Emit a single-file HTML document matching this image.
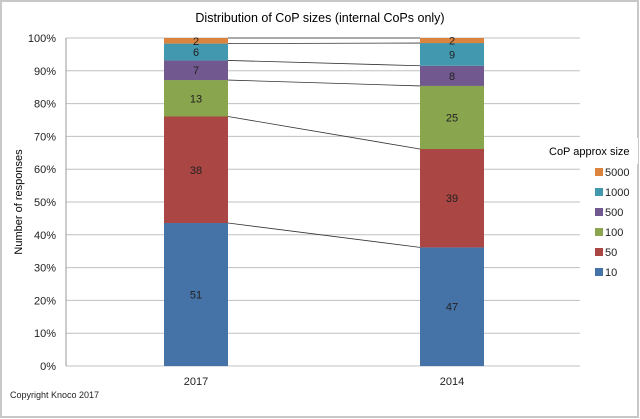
<!DOCTYPE html>
<html><head><meta charset="utf-8"><style>
body{margin:0;background:#fff}
svg{display:block;font-family:"Liberation Sans",sans-serif}
</style></head><body>
<svg id="c" width="640" height="419"></svg>
<script>
const categories=["2017","2014"];
const seriesNames=["10","50","100","500","1000","5000"];
const colors=["#4572A7","#AA4643","#89A54E","#71588F","#4198AF","#DB843D"];
const v10=[51,47];
const v50=[38,39];
const v100=[13,25];
const v500=[7,8];
const v1000=[6,9];
const v5000=[2,2];
const yTicks=["0%","10%","20%","30%","40%","50%","60%","70%","80%","90%","100%"];
const series=[v10,v50,v100,v500,v1000,v5000];
const NS="http://www.w3.org/2000/svg";
const svg=document.getElementById('c');
function mk(t,a,p){const e=document.createElementNS(NS,t);for(const k in a)e.setAttribute(k,a[k]);(p||svg).appendChild(e);return e;}
const x0=66,x1=580,y0=366,y1=38;
const y=p=>y0-(y0-y1)*p;
const barX=[164,420],bw=64;
mk('rect',{x:1,y:1,width:637,height:416,fill:'#fff',stroke:'#c8c8c8','stroke-width':2});
let t=mk('text',{x:320,y:22,'text-anchor':'middle','font-size':12.5,fill:'#000'});t.textContent="Distribution of CoP sizes (internal CoPs only)";

yTicks.forEach((lab,i)=>{const yy=y(i/10);
 const g=mk('line',{x1:x0,x2:x1,y1:yy,y2:yy,stroke:'#c0c0c0','stroke-width':1});
 
 const tx=mk('text',{x:56,y:yy+4,'text-anchor':'end','font-size':11,fill:'#222'});tx.textContent=lab;
 
});
mk('line',{x1:x0,x2:x0,y1:y1,y2:y0,stroke:'#999'});
t=mk('text',{x:0,y:0,transform:'translate(22,202) rotate(-90)','text-anchor':'middle','font-size':11,fill:'#000'});t.textContent="Number of responses";

const totals=categories.map((_,c)=>series.reduce((s,a)=>s+a[c],0));
const cum=categories.map(()=>[0]);
series.forEach((arr,s)=>categories.forEach((_,c)=>cum[c].push(cum[c][s]+arr[c]/totals[c])));
series.forEach((arr,s)=>{categories.forEach((cat,c)=>{
 const ya=y(cum[c][s]),yb=y(cum[c][s+1]);
 const r=mk('rect',{x:barX[c],y:yb,width:bw,height:ya-yb,fill:colors[s]});
 
 const l=mk('text',{x:barX[c]+bw/2,y:(ya+yb)/2+4,'text-anchor':'middle','font-size':11,fill:'#222'});l.textContent=arr[c];
 
});
 const sl=mk('line',{x1:barX[0]+bw,x2:barX[1],y1:y(cum[0][s+1]),y2:y(cum[1][s+1]),stroke:'#333','stroke-width':0.8});
 
});
categories.forEach((cat,c)=>{const tx=mk('text',{x:barX[c]+bw/2,y:385,'text-anchor':'middle','font-size':11,fill:'#222'});tx.textContent=cat;
 });
mk('rect',{x:542,y:138,width:96,height:26,fill:'#fff'});
t=mk('text',{x:549,y:155,'font-size':11,fill:'#000'});t.textContent="CoP approx size";

for(let i=5;i>=0;i--){const k=5-i,yy=172+k*20;
 const g=mk('g',{});
 mk('rect',{x:595,y:yy-4,width:8,height:8,fill:colors[i]},g);
 const tx=mk('text',{x:605,y:yy+4,'font-size':11,fill:'#222'},g);tx.textContent=seriesNames[i];}
t=mk('text',{x:10,y:398,'font-size':9,fill:'#222'});t.textContent="Copyright Knoco 2017";

</script>
</body></html>
